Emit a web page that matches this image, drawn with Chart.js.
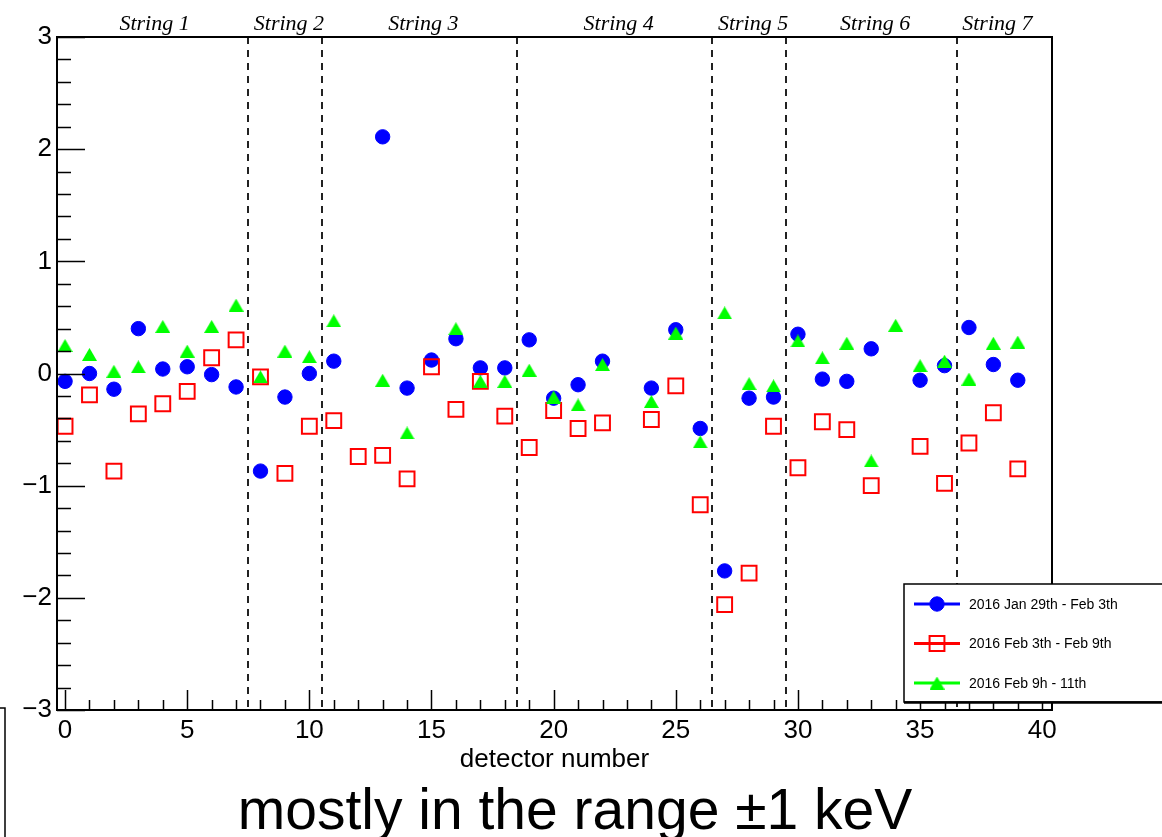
<!DOCTYPE html>
<html>
<head>
<meta charset="utf-8">
<script src="https://cdn.jsdelivr.net/npm/chart.js@4.4.1/dist/chart.umd.min.js"></script>
<style>
  html, body { margin: 0; padding: 0; background: #fff; }
  #wrap { position: relative; width: 1162px; height: 837px; }
</style>
</head>
<body>
<div id="wrap"><canvas id="chart" width="1162" height="837"></canvas></div>
<script>
// detector numbers along x
const detectors = [0, 1, 2, 3, 4, 5, 6, 7, 8, 9, 10, 11, 12, 13, 14, 15, 16, 17, 18, 19,
                   20, 21, 22, 23, 24, 25, 26, 27, 28, 29, 30, 31, 32, 33, 34, 35, 36, 37, 38, 39];

// shift per detector, one array per run period (null = no point)
const jan29Feb3 = [-0.07, 0.00, -0.14, 0.40, 0.04, 0.06, -0.01, -0.12, -0.87, -0.21,
                   0.00, 0.11, null, 2.11, -0.13, 0.12, 0.31, 0.05, 0.05, 0.30,
                   -0.22, -0.10, 0.11, null, -0.13, 0.39, -0.49, -1.76, -0.22, -0.21,
                   0.35, -0.05, -0.07, 0.22, null, -0.06, 0.07, 0.41, 0.08, -0.06];
const feb3Feb9 = [-0.47, -0.19, -0.87, -0.36, -0.27, -0.16, 0.14, 0.30, -0.03, -0.89,
                  -0.47, -0.42, -0.74, -0.73, -0.94, 0.06, -0.32, -0.07, -0.38, -0.66,
                  -0.33, -0.49, -0.44, null, -0.41, -0.11, -1.17, -2.06, -1.78, -0.47,
                  -0.84, -0.43, -0.50, -1.00, null, -0.65, -0.98, -0.62, -0.35, -0.85];
const feb9Feb11 = [0.25, 0.17, 0.02, 0.06, 0.42, 0.20, 0.42, 0.61, -0.03, 0.20,
                   0.15, 0.47, null, -0.06, -0.53, null, 0.40, -0.07, -0.07, 0.03,
                   -0.21, -0.28, 0.08, null, -0.25, 0.36, -0.61, 0.54, -0.09, -0.11,
                   0.29, 0.14, 0.27, -0.78, 0.43, 0.07, 0.11, -0.05, 0.27, 0.28];

const seriesNames = ['2016 Jan 29th - Feb 3th', '2016 Feb 3th - Feb 9th', '2016 Feb 9h - 11th'];

// strings of detectors and the boundaries between them
const stringNames = ['String 1', 'String 2', 'String 3', 'String 4', 'String 5', 'String 6', 'String 7'];
const stringEdges = [-0.5, 7.5, 10.5, 18.5, 26.5, 29.5, 36.5, 39.5];

const xTitle = 'detector number';
const caption = 'mostly in the range \u00b11 keV';

function points(values) {
    return detectors.map((d, i) => ({ x: d, y: values[i] })).filter(p => p.y !== null);
}

const SANS = '"Liberation Sans", Arial, Helvetica, sans-serif';

// ROOT's full triangle is centred on its bounding box, Chart.js' on its circumcentre
const triangle = document.createElement('canvas');
triangle.width = 15;
triangle.height = 13;
(function () {
    const t = triangle.getContext('2d');
    t.fillStyle = '#00ff00';
    t.beginPath();
    t.moveTo(7.5, 0);
    t.lineTo(15, 13);
    t.lineTo(0, 13);
    t.closePath();
    t.fill();
})();

function marker(ctx, ds, x, y) {
    ctx.save();
    if (ds.pointStyle instanceof HTMLCanvasElement) {
        const img = ds.pointStyle;
        ctx.drawImage(img, x - img.width / 2, y - img.height / 2);
    } else {
        ctx.fillStyle = ds.backgroundColor;
        ctx.strokeStyle = ds.borderColor;
        ctx.lineWidth = ds.pointBorderWidth;
        Chart.helpers.drawPoint(ctx, {
            pointStyle: ds.pointStyle,
            radius: ds.pointRadius,
            rotation: 0,
            borderWidth: ds.pointBorderWidth
        }, x, y);
    }
    ctx.restore();
}

// dashed string separators, under the markers
const separators = {
    id: 'separators',
    beforeDatasetsDraw(chart) {
        const { ctx, chartArea, scales } = chart;
        ctx.save();
        ctx.strokeStyle = '#222';
        ctx.lineWidth = 2;
        ctx.setLineDash([7, 6]);
        stringEdges.slice(1, -1).forEach(v => {
            const px = Math.round(scales.x.getPixelForValue(v));
            ctx.beginPath();
            ctx.moveTo(px, chartArea.top);
            ctx.lineTo(px, chartArea.bottom);
            ctx.stroke();
        });
        ctx.restore();
    }
};

// ROOT-style frame, inner ticks, labels and legend
const decorations = {
    id: 'decorations',
    afterDraw(chart) {
        const { ctx, chartArea: a, scales } = chart;
        const xs = scales.x, ys = scales.y;
        ctx.save();

        // frame
        ctx.strokeStyle = '#000';
        ctx.lineWidth = 2;
        ctx.strokeRect(a.left, a.top, a.right - a.left, a.bottom - a.top);

        // x ticks (inside, from the bottom)
        ctx.lineWidth = 1.5;
        ctx.beginPath();
        for (let v = 0; v <= 40; v++) {
            const px = Math.round(xs.getPixelForValue(v)) + 0.5;
            const len = v % 5 === 0 ? 20 : 10;
            ctx.moveTo(px, a.bottom);
            ctx.lineTo(px, a.bottom - len);
        }
        // y ticks (inside, from the left)
        for (let k = -15; k <= 15; k++) {
            const py = Math.round(ys.getPixelForValue(k / 5)) + 0.5;
            const len = k % 5 === 0 ? 28 : 14;
            ctx.moveTo(a.left, py);
            ctx.lineTo(a.left + len, py);
        }
        ctx.stroke();

        // string names above the frame
        ctx.fillStyle = '#000';
        ctx.font = 'italic 22px "Liberation Serif", "Times New Roman", serif';
        ctx.textAlign = 'center';
        ctx.textBaseline = 'alphabetic';
        stringNames.forEach((name, i) => {
            const mid = (stringEdges[i] + stringEdges[i + 1]) / 2;
            ctx.fillText(name, xs.getPixelForValue(mid) + 4, 30);
        });

        // axis title and caption
        ctx.font = '26px ' + SANS;
        ctx.fillText(xTitle, (a.left + a.right) / 2, 767);
        ctx.font = '57px ' + SANS;
        ctx.fillText(caption, 575, 829);

        // legend box
        const lx = 904, ly = 584, lw = 270, lh = 118;
        ctx.fillStyle = '#fff';
        ctx.fillRect(lx, ly, lw, lh);
        ctx.strokeStyle = '#000';
        ctx.lineWidth = 1.5;
        ctx.strokeRect(lx, ly, lw, lh);
        ctx.lineWidth = 2.5;
        ctx.beginPath();
        ctx.moveTo(lx, ly + lh + 0.5);
        ctx.lineTo(lx + lw, ly + lh + 0.5);
        ctx.stroke();

        ctx.font = '14px ' + SANS;
        ctx.textAlign = 'left';
        ctx.textBaseline = 'middle';
        chart.data.datasets.forEach((ds, i) => {
            const ry = 604 + i * 39.5;
            ctx.strokeStyle = ds.borderColor;
            ctx.lineWidth = 3;
            ctx.beginPath();
            ctx.moveTo(914, ry);
            ctx.lineTo(960, ry);
            ctx.stroke();
            marker(ctx, ds, 937, ry);
            ctx.fillStyle = '#000';
            ctx.fillText(ds.label, 969, ry + 1);
        });

        // leftover box edge at the lower left of the slide
        ctx.strokeStyle = '#000';
        ctx.lineWidth = 1.5;
        ctx.beginPath();
        ctx.moveTo(0, 708);
        ctx.lineTo(5, 708);
        ctx.lineTo(5, 837);
        ctx.stroke();

        ctx.restore();
    }
};

const ctx = document.getElementById('chart').getContext('2d');
new Chart(ctx, {
    type: 'scatter',
    data: {
        datasets: [
            {
                label: seriesNames[0],
                data: points(jan29Feb3),
                pointStyle: 'circle',
                pointRadius: 7.2,
                pointBorderWidth: 1,
                backgroundColor: '#0000ff',
                borderColor: '#0000ff',
                order: 3
            },
            {
                label: seriesNames[1],
                data: points(feb3Feb9),
                pointStyle: 'rect',
                pointRadius: 10.5,
                pointBorderWidth: 2,
                backgroundColor: 'rgba(0,0,0,0)',
                borderColor: '#ff0000',
                order: 2
            },
            {
                label: seriesNames[2],
                data: points(feb9Feb11),
                pointStyle: triangle,
                pointRadius: 8,
                pointBorderWidth: 0,
                backgroundColor: '#00ff00',
                borderColor: '#00ff00',
                order: 1
            }
        ]
    },
    options: {
        responsive: false,
        animation: false,
        devicePixelRatio: 1,
        events: [],
        layout: { padding: { left: 0, top: 37, right: 110, bottom: 0 } },
        plugins: {
            legend: { display: false },
            tooltip: { enabled: false },
            title: { display: false }
        },
        scales: {
            x: {
                type: 'linear',
                position: 'bottom',
                min: -0.33,
                max: 40.4,
                grid: { display: false, drawTicks: false },
                border: { display: false },
                ticks: {
                    stepSize: 5,
                    includeBounds: false,
                    autoSkip: false,
                    maxRotation: 0,
                    padding: 5,
                    color: '#000',
                    font: { family: SANS, size: 26 }
                },
                afterFit: s => { s.height = 127; }
            },
            y: {
                type: 'linear',
                min: -3,
                max: 3,
                grid: { display: false, drawTicks: false },
                border: { display: false },
                ticks: {
                    stepSize: 1,
                    padding: 5,
                    color: '#000',
                    font: { family: SANS, size: 26 },
                    callback: v => (v < 0 ? '\u2212' + Math.abs(v) : String(v))
                },
                afterFit: s => { s.width = 57; }
            }
        }
    },
    plugins: [separators, decorations]
});
</script>
</body>
</html>
